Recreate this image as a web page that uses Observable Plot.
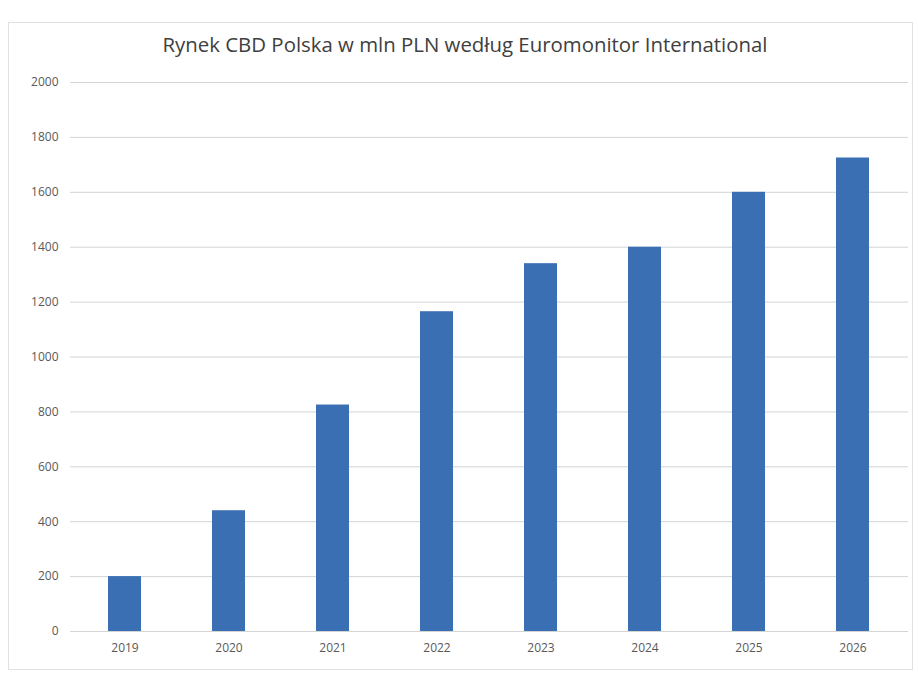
<!DOCTYPE html>
<html>
<head>
<meta charset="utf-8">
<script src="https://cdn.jsdelivr.net/npm/d3@7"></script>
<script src="https://cdn.jsdelivr.net/npm/@observablehq/plot@0.6"></script>
<style>
  html, body { margin: 0; padding: 0; background: #fff; }
  #wrap { position: relative; width: 919px; height: 673px; box-sizing: border-box; }
  #frame { position: absolute; left: 8px; top: 22px; width: 905px; height: 648px; border: 1px solid #e2e2e2; box-sizing: border-box; }
  #title { position: absolute; left: 0; width: 930px; top: 30px; text-align: center;
           font-family: "Open Sans", "Liberation Sans", sans-serif; font-size: 20.4px; color: #404040; }
  #chart { position: absolute; left: 0; top: 65px; }
</style>
</head>
<body>
<div id="wrap">
  <div id="frame"></div>
  <div id="title">Rynek CBD Polska w mln PLN według Euromonitor International</div>
  <div id="chart"></div>
</div>
<script>
const years = ["2019", "2020", "2021", "2022", "2023", "2024", "2025", "2026"];
const values = [200, 440, 825, 1165, 1340, 1400, 1600, 1725];
const yTicks = [0, 200, 400, 600, 800, 1000, 1200, 1400, 1600, 1800, 2000];

const data = years.map((y, i) => ({year: y, value: values[i]}));

const chart = Plot.plot({
  width: 919,
  height: 606,
  marginTop: 17,
  marginBottom: 40,
  marginLeft: 70,
  marginRight: 11,
  style: {fontFamily: "'Open Sans', 'Liberation Sans', sans-serif", fontSize: "12px", color: "#595959", background: "transparent"},
  x: {domain: years, paddingInner: 0.68, paddingOuter: 0.34, label: null},
  y: {domain: [0, 2000], label: null},
  marks: [
    Plot.gridY(yTicks, {stroke: "#d4d4d4", strokeOpacity: 1, strokeWidth: 1}),
    Plot.barY(data, {x: "year", y: "value", fill: "#3b6fb4"}),
    Plot.axisX({tickSize: 0, tickPadding: 12, fontSize: 12}),
    Plot.axisY(yTicks, {tickSize: 0, tickPadding: 12, fontSize: 12, tickFormat: d => String(d)})
  ]
});
document.getElementById("chart").appendChild(chart);
</script>
</body>
</html>
